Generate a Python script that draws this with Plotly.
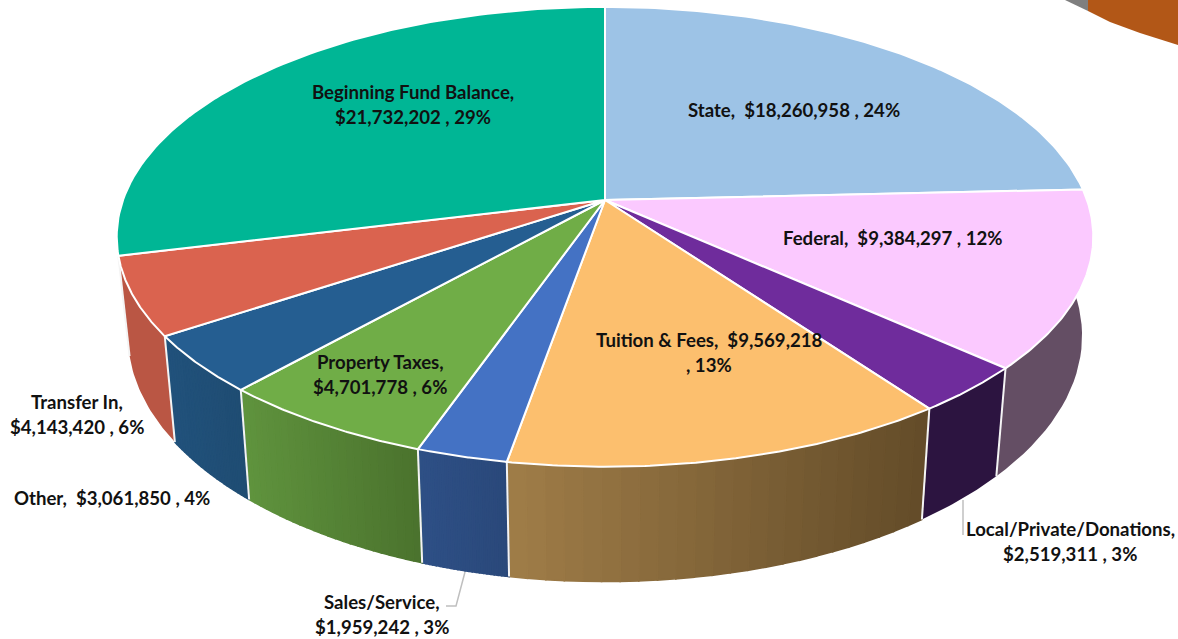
import numpy as np
import plotly.graph_objects as go

categories = ["State", "Federal", "Local/Private/Donations", "Tuition & Fees", "Sales/Service",
              "Property Taxes", "Other", "Transfer In", "Beginning Fund Balance"]
values = [18260958, 9384297, 2519311, 9569218, 1959242, 4701778, 3061850, 4143420, 21732202]
top_colors = ["#9DC3E6", "#FBC9FF", "#6F2C9C", "#FCBF6E", "#4472C4", "#70AD47", "#255E91", "#DA634F", "#00B695"]
wall_left = [None, (100, 78, 100), (44, 20, 64), (160, 125, 72), (46, 80, 134), (96, 148, 62), (33, 82, 124), (186, 86, 68), None]
wall_right = [None, (100, 78, 100), (44, 20, 64), (98, 75, 40), (42, 72, 122), (74, 114, 45), (31, 76, 114), (186, 86, 68), None]

label_lines = [
    ["State,  $18,260,958 , 24%"],
    ["Federal,  $9,384,297 , 12%"],
    ["Local/Private/Donations,", "$2,519,311 , 3%"],
    ["Tuition & Fees,  $9,569,218", ", 13%"],
    ["Sales/Service,", "$1,959,242 , 3%"],
    ["Property Taxes,", "$4,701,778 , 6%"],
    ["Other,  $3,061,850 , 4%"],
    ["Transfer In,", "$4,143,420 , 6%"],
    ["Beginning Fund Balance,", "$21,732,202 , 29%"],
]
label_x = [794, 893, 1070, 709, 382, 380, 112, 77, 413]
label_y = [110, 238, 529, 340, 602, 362, 498, 402, 92]

leader_local_x, leader_local_y = [963, 963], [500, 535]
leader_sales_x, leader_sales_y = [465, 456, 446], [572, 606, 606]
grey_x, grey_y = [1065, 1088, 1088], [0, 0, 11]
other_pie_x = [1088, 1110, 1140, 1178, 1178, 1088]
other_pie_y = [11, 22, 33, 45, 0, 0]

# pie geometry (screen pixels, projected disc)
CX, CY, RX, RY, PERSP, DEPTH, SHRINK = 605, 200, 482, 224, 0.16, 96.5, 0.977


def top_xy(theta):
    w = 1 + PERSP * np.cos(theta)
    return CX + RX * np.sin(theta) / w, CY - RY * np.cos(theta) / w


def low_xy(theta):
    x, y = top_xy(theta)
    w = 1 + PERSP * np.cos(theta)
    return CX + SHRINK * (x - CX), y + DEPTH / w


fractions = np.array(values) / sum(values)
edges = np.concatenate([[0], np.cumsum(fractions)]) * 2 * np.pi

fig = go.Figure()


def poly(x, y, fill, line=None, width=0):
    fig.add_trace(go.Scatter(
        x=list(x), y=list(y), mode="lines", fill="toself", fillcolor=fill,
        line=dict(color=line or fill, width=width), hoverinfo="skip", showlegend=False))


def path(x, y, color, width):
    fig.add_trace(go.Scatter(x=list(x), y=list(y), mode="lines",
                             line=dict(color=color, width=width), hoverinfo="skip", showlegend=False))


poly(grey_x, grey_y, "#7F7F7F")
poly(other_pie_x, other_pie_y, "#B25717")

# side walls, drawn as narrow strips that carry the horizontal gradient
for i in range(len(values)):
    if wall_left[i] is None:
        continue
    a, b = edges[i], edges[i + 1]
    thetas = np.linspace(a, b, 25)
    xs_all = np.concatenate([top_xy(thetas)[0], low_xy(thetas)[0]])
    xmin, xmax = xs_all.min(), xs_all.max()
    # flat-coloured walls need only one polygon, which avoids strip seams
    if wall_left[i] == wall_right[i]:
        tx, ty = top_xy(thetas)
        lx, ly = low_xy(thetas)
        c = wall_left[i]
        poly(np.concatenate([tx, lx[::-1], tx[:1]]), np.concatenate([ty, ly[::-1], ty[:1]]),
             f"rgb({c[0]},{c[1]},{c[2]})")
        continue
    for t0, t1 in zip(thetas[:-1], thetas[1:]):
        tx0, ty0 = top_xy(t0); tx1, ty1 = top_xy(t1)
        lx0, ly0 = low_xy(t0); lx1, ly1 = low_xy(t1)
        mid = ((tx0 + tx1 + lx0 + lx1) / 4 - xmin) / (xmax - xmin)
        c = [round(l + (r - l) * mid) for l, r in zip(wall_left[i], wall_right[i])]
        col = f"rgb({c[0]},{c[1]},{c[2]})"
        poly([tx0, tx1, lx1, lx0, tx0], [ty0, ty1, ly1, ly0, ty0], col, col, 1.6)

# white dividers between walls
for i in range(2, len(values)):
    tx, ty = top_xy(edges[i]); lx, ly = low_xy(edges[i])
    path([tx, lx], [ty, ly], "#F4F4F4", 2)

# top faces
for i in range(len(values)):
    thetas = np.linspace(edges[i], edges[i + 1], 90)
    ax, ay = top_xy(thetas)
    poly(np.concatenate([[CX], ax, [CX]]), np.concatenate([[CY], ay, [CY]]), top_colors[i], "#FFFFFF", 2)

path(leader_local_x, leader_local_y, "#BFBFBF", 1.5)
path(leader_sales_x, leader_sales_y, "#BFBFBF", 1.5)

for lines, lx, ly in zip(label_lines, label_x, label_y):
    for k, line in enumerate(lines):
        fig.add_annotation(x=lx, y=ly + 25 * k, text=f"<b>{line}</b>", showarrow=False,
                           xanchor="center", yanchor="middle",
                           font=dict(family="Lato", size=18.6, color="#111111"))

fig.update_layout(
    width=1178, height=639, margin=dict(l=0, r=0, t=0, b=0),
    paper_bgcolor="#FFFFFF", plot_bgcolor="#FFFFFF", showlegend=False,
    xaxis=dict(range=[0, 1178], visible=False, fixedrange=True),
    yaxis=dict(range=[639, 0], visible=False, fixedrange=True),
)
fig.write_html("out.html", config=dict(displayModeBar=False),
               post_script="document.body.style.margin='0';document.body.style.overflow='hidden';")
